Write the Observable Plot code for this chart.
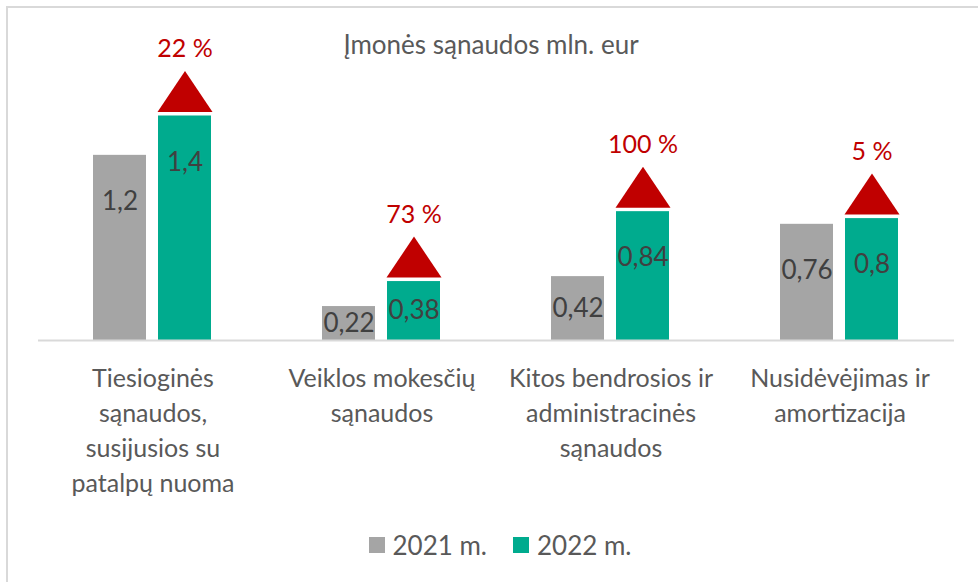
<!DOCTYPE html>
<html>
<head>
<meta charset="utf-8">
<script src="https://cdn.jsdelivr.net/npm/d3@7"></script>
<script src="https://cdn.jsdelivr.net/npm/@observablehq/plot@0.6"></script>
<style>
  html, body { margin: 0; padding: 0; background: #fff; }
  #wrap { position: relative; width: 978px; height: 582px; overflow: hidden; font-family: Lato, sans-serif; }
  #frame { position: absolute; left: 6px; top: 6px; width: 1200px; height: 1200px; border-left: 2px solid #d9d9d9; border-top: 2px solid #d9d9d9; }
  #title { position: absolute; left: 0; top: 28px; width: 982px; text-align: center; color: #595959; font-size: 26px; line-height: 32px; }
  #chart { position: absolute; left: 0; top: 0; }
  #legend { position: absolute; left: 0; top: 529px; width: 1000px; display: flex; justify-content: center; align-items: center; color: #595959; font-size: 26px; line-height: 32px; }
  .sw { display: inline-block; width: 16px; height: 16px; margin-right: 8px; }
  .item { display: flex; align-items: center; margin: 0 13px; }
</style>
</head>
<body>
<div id="wrap">
  <div id="frame"></div>
  <div id="chart"></div>
  <div id="title"></div>
  <div id="legend"></div>
</div>
<script>
const title = "Įmonės sąnaudos mln. eur";
const categories = [
  "Tiesioginės\nsąnaudos,\nsusijusios su\npatalpų nuoma",
  "Veiklos mokesčių\nsąnaudos",
  "Kitos bendrosios ir\nadministracinės\nsąnaudos",
  "Nusidėvėjimas ir\namortizacija"
];
const years = ["2021 m.", "2022 m."];
const values2021 = [1.2, 0.22, 0.414, 0.753];
const values2022 = [1.455, 0.382, 0.835, 0.79];
const labels2021 = ["1,2", "0,22", "0,42", "0,76"];
const labels2022 = ["1,4", "0,38", "0,84", "0,8"];
const changes = ["22 %", "73 %", "100 %", "5 %"];
const colors = ["#a5a5a5", "#00ab8e"];

const rows = categories.flatMap((c, i) => [
  {cat: c, year: years[0], value: values2021[i], label: labels2021[i]},
  {cat: c, year: years[1], value: values2022[i], label: labels2022[i]}
]);
const rows22 = categories.map((c, i) => ({cat: c, year: years[1], value: values2022[i], change: changes[i]}));

// triangle marker (up arrow) drawn just above a bar top
const triangle = {
  draw(ctx) {
    ctx.moveTo(-27.5, -4);
    ctx.lineTo(27.5, -4);
    ctx.lineTo(0, -45);
    ctx.closePath();
  }
};

const pxPerUnit = 154.3;
const baseY = 340;
const yMax = 2;

const chart = Plot.plot({
  width: 978,
  height: 520,
  marginLeft: 36,
  marginRight: 23,
  marginTop: baseY - yMax * pxPerUnit,
  marginBottom: 520 - baseY,
  style: {background: "transparent", overflow: "visible"},
  fx: {domain: categories, padding: 0, axis: null},
  x: {domain: years, paddingInner: 0.1818, paddingOuter: 0.8316, axis: null},
  y: {domain: [0, yMax], axis: null},
  color: {domain: years, range: colors},
  marks: [
    Plot.barY(rows, {fx: "cat", x: "year", y: "value", fill: "year"}),
    Plot.ruleY([0], {stroke: "#d9d9d9", strokeWidth: 2}),
    Plot.text(rows, {
      fx: "cat", x: "year",
      y: d => Math.max(d.value / 2, d.value - 0.3),
      text: "label", fill: "#404040", fontSize: 26, fontFamily: "Lato"
    }),
    Plot.dot(rows22, {fx: "cat", x: "year", y: "value", symbol: triangle, fill: "#c00000", stroke: "none", r: 10}),
    Plot.text(rows22, {fx: "cat", x: "year", y: "value", text: "change", dy: -67, fill: "#c00000", fontSize: 25, fontFamily: "Lato"}),
    Plot.text(categories, {
      fx: d => d, text: d => d, frameAnchor: "bottom", lineAnchor: "top",
      dy: 22, lineHeight: 1.4, fill: "#595959", fontSize: 25, fontFamily: "Lato"
    })
  ]
});
document.getElementById("chart").appendChild(chart);
document.getElementById("title").textContent = title;

const legend = document.getElementById("legend");
years.forEach((y, i) => {
  const item = document.createElement("div");
  item.className = "item";
  const sw = document.createElement("span");
  sw.className = "sw";
  sw.style.background = colors[i];
  const t = document.createElement("span");
  t.textContent = y;
  item.appendChild(sw);
  item.appendChild(t);
  legend.appendChild(item);
});
</script>
</body>
</html>
